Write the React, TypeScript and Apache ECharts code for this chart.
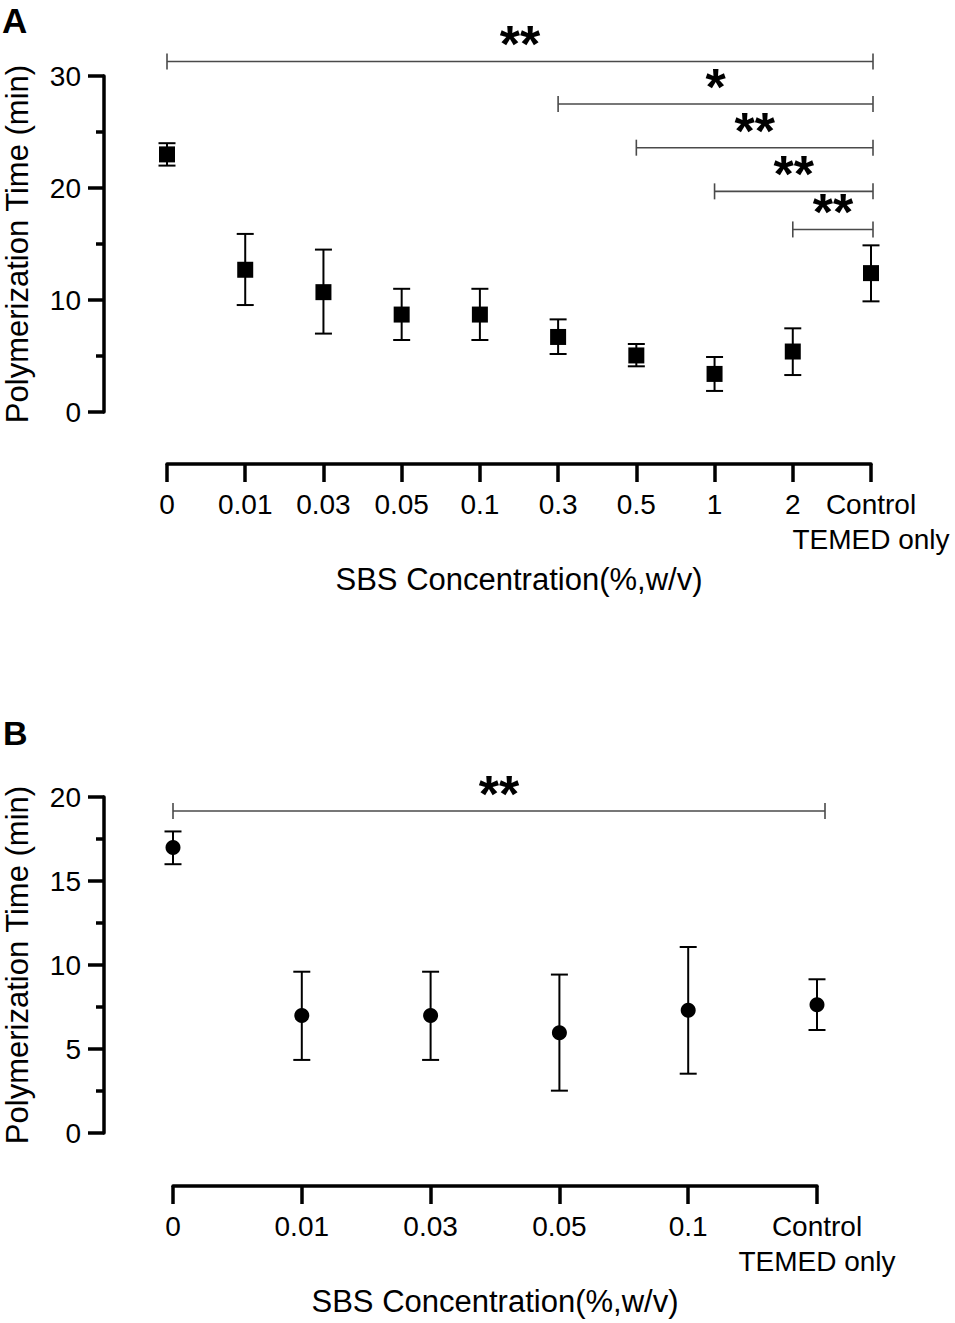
import React, { useEffect, useRef } from "react";
import * as echarts from "echarts";

const categoriesA = ["0", "0.01", "0.03", "0.05", "0.1", "0.3", "0.5", "1", "2", "Control\nTEMED only"];
const meanA = [23.0, 12.7, 10.7, 8.7, 8.7, 6.7, 5.05, 3.4, 5.4, 12.4];
const lowA = [22.0, 9.55, 7.0, 6.43, 6.43, 5.18, 4.08, 1.88, 3.3, 9.88];
const highA = [24.0, 15.9, 14.5, 11.0, 11.0, 8.27, 6.07, 4.91, 7.47, 14.88];
// [startIndex, endIndex, height]
const bracketsA = [
  [0, 9, 31.3],
  [5, 9, 27.5],
  [6, 9, 23.6],
  [7, 9, 19.7],
  [8, 9, 16.3],
];
const bracketLabelsA = ["**", "*", "**", "**", "**"];
const yTicksA = { min: 0, max: 30, interval: 10 };

const categoriesB = ["0", "0.01", "0.03", "0.05", "0.1", "Control\nTEMED only"];
const meanB = [17.0, 7.0, 7.0, 5.97, 7.3, 7.64];
const lowB = [16.0, 4.35, 4.35, 2.52, 3.53, 6.13];
const highB = [17.95, 9.6, 9.6, 9.43, 11.07, 9.15];
const bracketsB = [[0, 5, 19.17]];
const bracketLabelsB = ["**"];
const yTicksB = { min: 0, max: 20, interval: 5 };

const FONT = '"Liberation Sans", Arial, Helvetica, sans-serif';
const AXIS_W = 3.5;

function errorBarSeries(low: number[], high: number[], idx: number) {
  return {
    type: "custom",
    xAxisIndex: idx,
    yAxisIndex: idx,
    z: 2,
    data: low.map((l, i) => [i, l, high[i]]),
    renderItem: (_p: any, api: any) => {
      const x = api.value(0);
      const pLo = api.coord([x, api.value(1)]);
      const pHi = api.coord([x, api.value(2)]);
      const hw = 8.5;
      const st = { stroke: "#000", lineWidth: 2 };
      return {
        type: "group",
        children: [
          { type: "line", shape: { x1: pLo[0], y1: pLo[1], x2: pHi[0], y2: pHi[1] }, style: st },
          { type: "line", shape: { x1: pLo[0] - hw, y1: pLo[1], x2: pLo[0] + hw, y2: pLo[1] }, style: st },
          { type: "line", shape: { x1: pHi[0] - hw, y1: pHi[1], x2: pHi[0] + hw, y2: pHi[1] }, style: st },
        ],
      };
    },
  };
}

function bracketSeries(br: number[][], labels: string[], idx: number, endPad: number) {
  return {
    type: "custom",
    xAxisIndex: idx,
    yAxisIndex: idx,
    z: 3,
    clip: false,
    data: br,
    renderItem: (params: any, api: any) => {
      const p1 = api.coord([api.value(0), api.value(2)]);
      const p2 = api.coord([api.value(1), api.value(2)]);
      const x1 = p1[0];
      const x2 = p2[0] + endPad;
      const y = p1[1];
      const st = { stroke: "#4a4a4a", lineWidth: 1.6 };
      return {
        type: "group",
        children: [
          { type: "line", shape: { x1, y1: y, x2, y2: y }, style: st },
          { type: "line", shape: { x1, y1: y - 8, x2: x1, y2: y + 8 }, style: st },
          { type: "line", shape: { x1: x2, y1: y - 8, x2, y2: y + 8 }, style: st },
          {
            type: "text",
            x: (x1 + x2) / 2,
            y: y - 17,
            style: {
              text: labels[params.dataIndex],
              fontSize: 52,
              fontWeight: "bold",
              fontFamily: FONT,
              fill: "#000",
              align: "center",
              verticalAlign: "middle",
            },
          },
        ],
      };
    },
  };
}

function xAxisCfg(cats: string[], idx: number, offset: number) {
  return {
    type: "category",
    gridIndex: idx,
    data: cats,
    boundaryGap: false,
    position: "bottom",
    offset,
    axisLine: { show: true, onZero: false, lineStyle: { color: "#000", width: AXIS_W } },
    axisTick: { show: true, length: 18, interval: 0, lineStyle: { color: "#000", width: AXIS_W } },
    axisLabel: {
      interval: 0,
      color: "#000",
      fontSize: 28,
      fontFamily: FONT,
      lineHeight: 35,
      margin: 23,
    },
    splitLine: { show: false },
    name: "SBS Concentration(%,w/v)",
    nameLocation: "middle",
    nameGap: 100,
    nameTextStyle: { color: "#000", fontSize: 31, fontFamily: FONT },
  };
}

function yAxisCfg(t: { min: number; max: number; interval: number }, idx: number, offset: number) {
  return {
    type: "value",
    gridIndex: idx,
    min: t.min,
    max: t.max,
    interval: t.interval,
    position: "left",
    offset,
    axisLine: { show: true, onZero: false, lineStyle: { color: "#000", width: AXIS_W } },
    axisTick: { show: true, length: 16, lineStyle: { color: "#000", width: AXIS_W } },
    minorTick: { show: true, splitNumber: 2, length: 8, lineStyle: { color: "#000", width: AXIS_W } },
    axisLabel: { color: "#000", fontSize: 28, fontFamily: FONT, margin: 23 },
    splitLine: { show: false },
    name: "Polymerization Time (min)",
    nameLocation: "middle",
    nameGap: 71,
    nameTextStyle: { color: "#000", fontSize: 31, fontFamily: FONT },
  };
}

export default function App() {
  const ref = useRef<HTMLDivElement>(null);
  useEffect(() => {
    if (!ref.current) return;
    const chart = echarts.init(ref.current, null, { renderer: "svg" });
    chart.setOption({
      animation: false,
      backgroundColor: "#fff",
      grid: [
        { left: 167, width: 704, top: 76, height: 336, outerBoundsMode: "none", containLabel: false },
        { left: 173, width: 644, top: 797, height: 336, outerBoundsMode: "none", containLabel: false },
      ],
      xAxis: [xAxisCfg(categoriesA, 0, 52), xAxisCfg(categoriesB, 1, 53)],
      yAxis: [yAxisCfg(yTicksA, 0, 63), yAxisCfg(yTicksB, 1, 69)],
      graphic: [
        { type: "text", left: 2, top: 3, style: { text: "A", fontSize: 35, fontWeight: "bold", fontFamily: FONT, fill: "#000" } },
        { type: "text", left: 3, top: 716, style: { text: "B", fontSize: 34, fontWeight: "bold", fontFamily: FONT, fill: "#000" } },
      ],
      series: [
        errorBarSeries(lowA, highA, 0),
        {
          type: "scatter",
          xAxisIndex: 0,
          yAxisIndex: 0,
          z: 4,
          symbol: "rect",
          symbolSize: 16,
          itemStyle: { color: "#000", opacity: 1 },
          data: meanA,
        },
        bracketSeries(bracketsA, bracketLabelsA, 0, 2),
        errorBarSeries(lowB, highB, 1),
        {
          type: "scatter",
          xAxisIndex: 1,
          yAxisIndex: 1,
          z: 4,
          symbol: "circle",
          symbolSize: 15,
          itemStyle: { color: "#000", opacity: 1 },
          data: meanB,
        },
        bracketSeries(bracketsB, bracketLabelsB, 1, 8),
      ],
    });
    return () => chart.dispose();
  }, []);
  return (
    <div
      ref={ref}
      style={{ position: "absolute", left: 0, top: 0, width: 955, height: 1323, background: "#fff" }}
    />
  );
}
